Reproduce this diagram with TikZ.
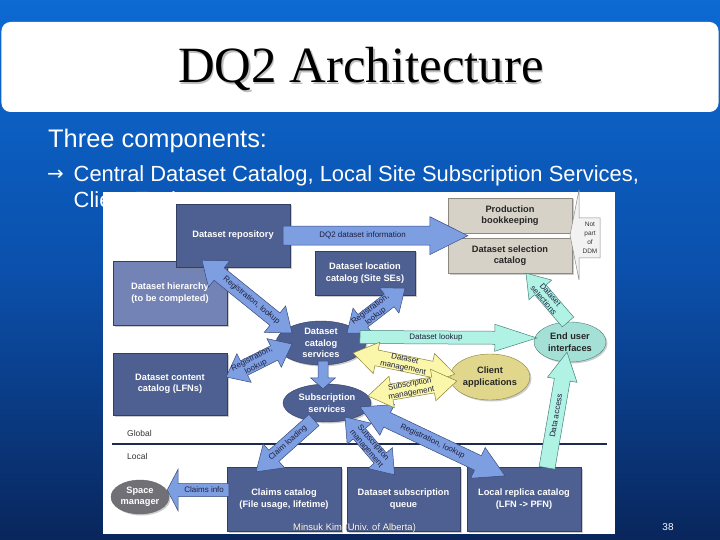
\documentclass[tikz,border=0pt]{standalone}
\usepackage{fontspec}
\setmainfont{Liberation Sans}
\newfontfamily\titlefont{Liberation Serif}
\newfontfamily\symfont{DejaVu Sans}
\usetikzlibrary{calc,shapes.geometric,shadows}

% colours
\definecolor{slidetop}{RGB}{12,106,210}
\definecolor{slidemid}{RGB}{11,80,172}
\definecolor{slidebot}{RGB}{9,38,92}
\definecolor{boxblue}{RGB}{78,95,145}
\definecolor{boxedge}{RGB}{50,62,100}
\definecolor{hierblue}{RGB}{116,131,181}
\definecolor{boxgrey}{RGB}{214,210,200}
\definecolor{greyedge}{RGB}{140,136,128}
\definecolor{arrblue}{RGB}{126,158,226}
\definecolor{arredge}{RGB}{55,75,125}
\definecolor{arrteal}{RGB}{176,242,228}
\definecolor{tealedge}{RGB}{70,130,125}
\definecolor{arryellow}{RGB}{250,246,170}
\definecolor{yellowedge}{RGB}{140,130,60}
\definecolor{euifill}{RGB}{165,224,214}
\definecolor{clientfill}{RGB}{224,214,140}
\definecolor{spacefill}{RGB}{112,112,118}
\definecolor{labeltext}{RGB}{30,32,60}
\definecolor{divider}{RGB}{28,42,82}

\tikzset{
  dqbox/.style={rectangle, draw=boxedge, line width=.4bp, fill=boxblue, text=white,
    font=\fontsize{9.3}{11.5}\selectfont\bfseries, align=center, inner sep=0pt,
    drop shadow={shadow xshift=1.5bp, shadow yshift=-1.5bp, opacity=.4}},
  greybox/.style={dqbox, fill=boxgrey, draw=greyedge, text=black!85},
  service/.style={ellipse, draw=boxedge, line width=.4bp, fill=boxblue, text=white,
    font=\fontsize{9.3}{11.5}\selectfont\bfseries, align=center, inner sep=0pt,
    drop shadow={shadow xshift=1.5bp, shadow yshift=-1.5bp, opacity=.4}},
  bluearr/.style={fill=arrblue, draw=arredge, line width=.5bp},
  tealarr/.style={fill=arrteal, draw=tealedge, line width=.5bp},
  yellowarr/.style={fill=arryellow, draw=yellowedge, line width=.5bp},
  arrlabel/.style={font=\fontsize{8}{9}\selectfont, text=labeltext, align=center, inner sep=0pt},
  slidetext/.style={anchor=base west, text=white, inner sep=0pt}
}

% single block arrow: tail #2, tip #3, half shaft #4, half head #5, head length #6
\newcommand{\blockarrow}[6][]{%
  \path ($(#3)!#6!(#2)$) coordinate (hb);
  \filldraw[#1] ($(#2)!#4!90:(#3)$) -- ($(hb)!#4!-90:(#2)$) -- ($(hb)!#5!-90:(#2)$) -- (#3)
    -- ($(hb)!#5!90:(#2)$) -- ($(hb)!#4!90:(#2)$) -- ($(#2)!#4!-90:(#3)$) -- cycle;
}
% block arrow with two heads
\newcommand{\twowayarrow}[6][]{%
  \path ($(#3)!#6!(#2)$) coordinate (hb) ($(#2)!#6!(#3)$) coordinate (ha);
  \filldraw[#1] (#2) -- ($(ha)!#5!90:(#3)$) -- ($(ha)!#4!90:(#3)$) -- ($(hb)!#4!-90:(#2)$)
    -- ($(hb)!#5!-90:(#2)$) -- (#3) -- ($(hb)!#5!90:(#2)$) -- ($(hb)!#4!90:(#2)$)
    -- ($(ha)!#4!-90:(#3)$) -- ($(ha)!#5!-90:(#3)$) -- cycle;
}
% text along an arrow, read from #2 to #3
\newcommand{\arrowtext}[5][]{%
  \path let \p1=($(#3)-(#2)$), \n1={atan2(\y1,\x1)} in
    ($(#2)!#4!(#3)$) node[arrlabel, rotate=\n1, #1] {#5};
}

\begin{document}
\begin{tikzpicture}[x=1bp, y=-1bp]
\useasboundingbox (0,0) rectangle (720,540);
% slide background
\shade[top color=slidetop, bottom color=slidebot, middle color=slidemid] (0,0) rectangle (720,540);

% title
\node (titlebar) [fill=white, rounded corners=9bp, minimum width=717bp, minimum height=90bp, inner sep=0pt] at (360,67) {};
\node [anchor=base, font=\titlefont\fontsize{51}{51}\selectfont, text=black!25, inner sep=0pt] at (362.3,84.3) {DQ2 Architecture};
\node (title) [anchor=base, font=\titlefont\fontsize{51}{51}\selectfont, inner sep=0pt] at (361,83) {DQ2 Architecture};

% slide text
\node (intro) [slidetext, font=\fontsize{25.5}{30}\selectfont] at (48,148) {Three components:};
\node (bullet) [slidetext, font=\symfont\fontsize{20}{26}\selectfont] at (47,181) {→};
\node (line1) [slidetext, font=\fontsize{22}{26}\selectfont] at (73.5,182) {Central Dataset Catalog, Local Site Subscription Services,};
\node (line2) [slidetext, font=\fontsize{22}{26}\selectfont] at (73.5,207.5) {Client Tools};

% diagram panel
\node (panel) [fill=white, minimum width=512bp, minimum height=342bp, inner sep=0pt] at (359,363) {};

% global / local split
\draw[divider, line width=2.5bp] (112,444) -- (607,444);
\node (global) [anchor=west, font=\fontsize{8.5}{10}\selectfont, text=black!80, inner sep=0pt] at (127,433) {Global};
\node (local) [anchor=west, font=\fontsize{8.5}{10}\selectfont, text=black!80, inner sep=0pt] at (127,456) {Local};

% catalogs
\node (hier) [dqbox, fill=hierblue, minimum width=114bp, minimum height=64bp] at (170,293) {Dataset hierarchy\\(to be completed)};
\node (repo) [dqbox, minimum width=114bp, minimum height=63bp] at (233,235.5) {Dataset repository};
\node (loc) [dqbox, minimum width=100bp, minimum height=44bp] at (365,273) {Dataset location\\catalog (Site SEs)};
\node (content) [dqbox, minimum width=114bp, minimum height=62bp] at (170,384) {Dataset content\\catalog (LFNs)};
\node (prod) [greybox, minimum width=124bp, minimum height=35bp] at (510,215.5) {Production\\bookkeeping};
\node (sel) [greybox, minimum width=124bp, minimum height=35bp] at (510,255.5) {Dataset selection\\catalog};
\node (claims) [dqbox, minimum width=114bp, minimum height=64bp] at (284,499) {Claims catalog\\(File usage, lifetime)};
\node (subq) [dqbox, minimum width=113bp, minimum height=64bp] at (403.5,499) {Dataset subscription\\queue};
\node (lrc) [dqbox, minimum width=114bp, minimum height=64bp] at (524,499) {Local replica catalog\\(LFN -> PFN)};

% services
\node (dcs) [service, minimum width=90bp, minimum height=44bp] at (321,343) {Dataset\\catalog\\services};
\node (subs) [service, minimum width=88bp, minimum height=38bp] at (327,403) {Subscription\\services};
\node (client) [service, fill=clientfill, draw=yellowedge, text=black!85, minimum width=80bp, minimum height=46bp] at (490,377) {Client\\applications};
\node (eui) [service, fill=euifill, draw=tealedge, text=black!85, minimum width=72bp, minimum height=40bp] at (570,342) {End user\\interfaces};
\node (space) [service, fill=spacefill, draw=black!60, minimum width=58bp, minimum height=34bp] at (140,497) {Space\\manager};

% not part of DDM
\filldraw[fill=black!5, draw=black!45, line width=.5bp] (570,235) -- (579,190) -- (579,218) -- (600,218)
  -- (600,258) -- (579,258) -- (579,280) -- cycle;
\node (notddm) [font=\fontsize{6.5}{9}\selectfont, text=black!80, align=center, inner sep=0pt] at (590,238) {Not\\part\\of\\DDM};

% arrow ends
\coordinate (dqA) at ($(repo.east)+(-7,0)$);
\coordinate (dqB) at ($(prod.south west)+(20,2.5)$);
\coordinate (rgA) at ($(repo.south)+(-31,-7)$);
\coordinate (rgB) at ($(dcs.center)+(-29,-10)$);
\coordinate (rlA) at ($(dcs.center)+(26,-10)$);
\coordinate (rlB) at ($(loc.south)+(40,-7)$);
\coordinate (rcA) at ($(content.east)+(-1,-7)$);
\coordinate (rcB) at ($(dcs.center)+(-29,1)$);
\coordinate (luA) at ($(dcs.center)+(39,-6)$);
\coordinate (luB) at ($(eui.west)+(3,-4)$);
\coordinate (dmA) at ($(dcs.center)+(32,10)$);
\coordinate (dmB) at ($(client.west)+(5,-3)$);
\coordinate (smA) at ($(subs.center)+(41,-7)$);
\coordinate (smB) at ($(client.west)+(7,4)$);
\coordinate (csA) at ($(dcs.south)+(2,-4)$);
\coordinate (csB) at ($(subs.north)+(-4,5)$);
\coordinate (clA) at ($(subs.center)+(-13,17)$);
\coordinate (clB) at ($(claims.north)+(-28,5)$);
\coordinate (sqA) at ($(subs.center)+(18,14)$);
\coordinate (sqB) at ($(subq.north)+(-9,8)$);
\coordinate (rrA) at ($(subs.center)+(33,4)$);
\coordinate (rrB) at ($(lrc.north)+(-19,9)$);
\coordinate (ciA) at ($(claims.west)+(2,-9)$);
\coordinate (ciB) at ($(space.east)+(-2,-7)$);
\coordinate (dsA) at ($(eui.center)+(-2,-20)$);
\coordinate (dsB) at ($(sel.south)+(16,0)$);
\coordinate (daA) at ($(lrc.north)+(23,1)$);
\coordinate (daB) at ($(eui.south)+(-3,-10)$);

% blue arrows
\blockarrow[bluearr]{dqA}{dqB}{9.5bp}{19bp}{38bp}
\arrowtext{dqA}{dqB}{.43}{DQ2 dataset information}
\twowayarrow[bluearr]{rgA}{rgB}{8bp}{17bp}{22bp}
\arrowtext{rgA}{rgB}{.55}{Registration, lookup}
\twowayarrow[bluearr]{rlA}{rlB}{8bp}{16bp}{20bp}
\arrowtext{rlA}{rlB}{.45}{Registration,\\lookup}
\twowayarrow[bluearr]{rcA}{rcB}{8bp}{16bp}{20bp}
\arrowtext{rcA}{rcB}{.42}{Registration,\\lookup}
\blockarrow[bluearr]{csA}{csB}{5bp}{12.5bp}{11bp}
\blockarrow[bluearr]{clA}{clB}{7.5bp}{16bp}{24bp}
\arrowtext{clB}{clA}{.55}{Claim loading}
\twowayarrow[bluearr]{sqA}{sqB}{8bp}{16bp}{22bp}
\arrowtext{sqA}{sqB}{.5}{Subscription\\management}
\twowayarrow[bluearr]{rrA}{rrB}{8bp}{17bp}{30bp}
\arrowtext{rrA}{rrB}{.5}{Registration, lookup}
\blockarrow[bluearr]{ciA}{ciB}{6.5bp}{21bp}{11bp}
\arrowtext{ciB}{ciA}{.6}{Claims info}

% teal arrows
\blockarrow[tealarr]{luA}{luB}{6.5bp}{13.5bp}{42bp}
\arrowtext{luA}{luB}{.43}{Dataset lookup}
\blockarrow[tealarr]{dsA}{dsB}{7.5bp}{15bp}{22bp}
\arrowtext{dsB}{dsA}{.5}{Dataset\\selections}
\blockarrow[tealarr]{daA}{daB}{8bp}{15bp}{28bp}
\arrowtext{daA}{daB}{.45}{Data access}

% yellow arrows
\twowayarrow[yellowarr]{dmA}{dmB}{8bp}{16bp}{24bp}
\arrowtext{dmA}{dmB}{.5}{Dataset\\management}
\twowayarrow[yellowarr]{smA}{smB}{8bp}{16bp}{24bp}
\arrowtext{smA}{smB}{.48}{Subscription\\management}

% footer
\node [slidetext, font=\fontsize{9.5}{11}\selectfont, text=black!75] at (293.5,530.5) {Minsuk Kim (Univ. of Alberta)};
\node (footer) [slidetext, font=\fontsize{9.5}{11}\selectfont] at (293,530) {Minsuk Kim (Univ. of Alberta)};
\node (pageno) [anchor=base, font=\fontsize{10}{12}\selectfont, text=white, inner sep=0pt] at (668,530) {38};
\end{tikzpicture}
\end{document}
